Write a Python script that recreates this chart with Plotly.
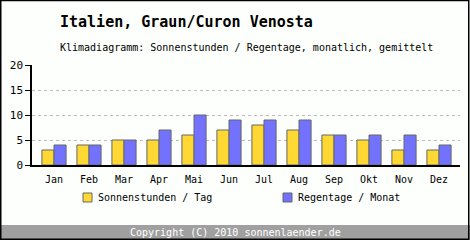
import plotly.graph_objects as go

months = ["Jan", "Feb", "Mar", "Apr", "Mai", "Jun", "Jul", "Aug", "Sep", "Okt", "Nov", "Dez"]
sonnenstunden = [3, 4, 5, 5, 6, 7, 8, 7, 6, 5, 3, 3]
regentage = [4, 4, 5, 7, 10, 9, 9, 9, 6, 6, 6, 4]
y_ticks = [0, 5, 10, 15, 20]

SUN = "#FFD833"
RAIN = "#7272FF"
EDGE = "#666666"
BG = "#FCFFFC"
FONT = "DejaVu Sans Mono"

W, H = 470, 240
L, R, T, B = 32, 10, 65, 75
pw, ph = W - L - R, H - T - B


def px(x):
    return (x - L) / pw


def py(y):
    return (H - B - y) / ph


fig = go.Figure()
fig.add_trace(go.Bar(x=list(range(12)), y=sonnenstunden, name="Sonnenstunden / Tag",
                     marker=dict(color=SUN, line=dict(color=EDGE, width=1)), showlegend=False))
fig.add_trace(go.Bar(x=list(range(12)), y=regentage, name="Regentage / Monat",
                     marker=dict(color=RAIN, line=dict(color=EDGE, width=1)), showlegend=False))

x0 = -(54 - L) / 35
x1 = x0 + pw / 35

fig.update_layout(
    width=W, height=H,
    margin=dict(l=L, r=R, t=T, b=B),
    paper_bgcolor=BG, plot_bgcolor=BG,
    barmode="group", bargap=0.31, bargroupgap=0,
    font=dict(family=FONT, size=10, color="#000000"),
    xaxis=dict(range=[x0, x1], tickmode="array", tickvals=list(range(12)), ticktext=months,
               showgrid=False, showline=True, linecolor="#000000", linewidth=1.5,
               ticks="", ticklabelstandoff=4, zeroline=False,
               tickfont=dict(family=FONT, size=10)),
    yaxis=dict(range=[0, 20], tickmode="array", tickvals=y_ticks, ticktext=[str(v) for v in y_ticks],
               showgrid=True, gridcolor="#BBBBBB", griddash="dot", gridwidth=1,
               showline=True, linecolor="#000000", linewidth=1.5,
               ticks="outside", ticklen=5, tickcolor="#000000", zeroline=False,
               tickfont=dict(family=FONT, size=11)),
    showlegend=False,
)

shapes = []
annotations = []
# title & subtitle
annotations.append(dict(text="<b>Italien, Graun/Curon Venosta</b>", xref="paper", yref="paper",
                        x=px(57.5), y=py(22), xanchor="left", yanchor="middle", showarrow=False,
                        font=dict(family=FONT, size=15, color="#000000")))
annotations.append(dict(text="Klimadiagramm: Sonnenstunden / Regentage, monatlich, gemittelt",
                        xref="paper", yref="paper", x=px(57.5), y=py(47), xanchor="left",
                        yanchor="middle", showarrow=False,
                        font=dict(family=FONT, size=10, color="#000000")))
# legend
for sx, tx, col, name in [(83, 96, SUN, "Sonnenstunden / Tag"), (283, 296, RAIN, "Regentage / Monat")]:
    shapes.append(dict(type="rect", xref="paper", yref="paper", x0=px(sx), x1=px(sx + 9),
                       y0=py(193), y1=py(202), fillcolor=col, line=dict(color=EDGE, width=1)))
    annotations.append(dict(text=name, xref="paper", yref="paper", x=px(tx), y=py(197.5),
                            xanchor="left", yanchor="middle", showarrow=False,
                            font=dict(family=FONT, size=10, color="#000000")))
# footer band
shapes.append(dict(type="rect", xref="paper", yref="paper", x0=px(0), x1=px(W), y0=py(225), y1=py(H),
                   fillcolor="#A0A0A0", line=dict(width=0), layer="above"))
annotations.append(dict(text="Copyright (C) 2010 sonnenlaender.de", xref="paper", yref="paper",
                        x=px(235), y=py(232), xanchor="center", yanchor="middle", showarrow=False,
                        font=dict(family=FONT, size=10, color="#FFFFFF")))
# outer border
shapes.append(dict(type="rect", xref="paper", yref="paper", x0=px(0.75), x1=px(W - 1.25),
                   y0=py(0.5), y1=py(H - 0.75), line=dict(color="#000000", width=1.5),
                   fillcolor="rgba(0,0,0,0)", layer="above"))

fig.update_layout(shapes=shapes, annotations=annotations)
fig.write_html("out.html")
